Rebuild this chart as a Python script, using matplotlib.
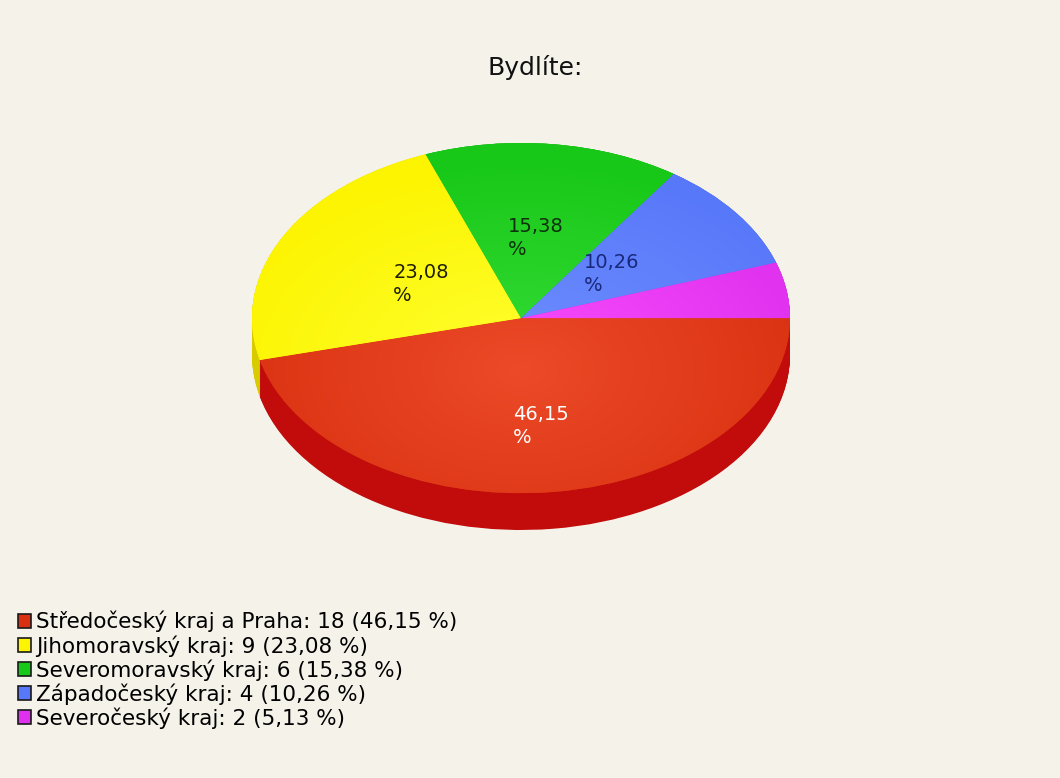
import numpy as np
import matplotlib.pyplot as plt
from matplotlib.patches import Patch
from matplotlib.colors import to_rgb

title = 'Bydlíte:'
regions = ['Středočeský kraj a Praha', 'Jihomoravský kraj', 'Severomoravský kraj',
           'Západočeský kraj', 'Severočeský kraj']
counts = [18, 9, 6, 4, 2]
shares = ['46,15', '23,08', '15,38', '10,26', '5,13']

top_colors = ['#d83010', '#fcf400', '#18c818', '#5878fa', '#de30ee']
light_colors = ['#ec4a28', '#ffff30', '#36dc36', '#6e8eff', '#fa4cfc']
side_colors = ['#c20c0c', '#d8cc00', '#109a10', '#3a56d0', '#a81cb8']
label_colors = ['#ffffff', '#1e1e00', '#0e300e', '#18287a', '#000000']
label_dist = [0.62, 0.42, 0.46, 0.42, 0.5]
show_label = [True, True, True, True, False]

bg = '#f5f2ea'
depth = 0.21

plt.rcParams['font.family'] = ['DejaVu Sans']

fig = plt.figure(figsize=(10.6, 7.78), dpi=100, facecolor=bg)
ax = fig.add_axes([252 / 1060, 1 - 530 / 778, 538 / 1060, 387 / 778])

# side of the disc: a stack of darker pies shifted down
for d in np.linspace(depth, 0, 45):
    ax.pie(counts, colors=side_colors, startangle=0, counterclock=False,
           center=(0, -d), wedgeprops=dict(linewidth=0))

wedges, _ = ax.pie(counts, colors=top_colors, startangle=0, counterclock=False,
                   wedgeprops=dict(linewidth=0))

# soft radial shading on the top face
xx, yy = np.meshgrid(np.linspace(-1, 1, 500), np.linspace(-1, 1, 500))
t = np.clip(np.hypot(xx, yy + 0.3) / 1.2, 0, 1)[..., None]
for w, c_light, c_base in zip(wedges, light_colors, top_colors):
    a = np.array(to_rgb(c_light))
    b = np.array(to_rgb(c_base))
    img = a + (b - a) * t
    im = ax.imshow(img, extent=(-1, 1, -1, 1), origin='lower', aspect='auto',
                   interpolation='bilinear', zorder=3)
    im.set_clip_path(w)

for w, s, col, r, show in zip(wedges, shares, label_colors, label_dist, show_label):
    if not show:
        continue
    ang = np.deg2rad((w.theta1 + w.theta2) / 2)
    ax.text(r * np.cos(ang), r * np.sin(ang), s + '\n%', color=col, fontsize=14,
            ha='center', va='center', multialignment='left', linespacing=1.3,
            zorder=5)

ax.set_aspect('auto')
ax.set_xlim(-1, 1)
ax.set_ylim(-1 - depth, 1)
ax.axis('off')

fig.text(535 / 1060, 1 - 68 / 778, title, ha='center', va='center', fontsize=18,
         color='#111111')

handles = [Patch(facecolor=c, edgecolor='#1a1a1a', linewidth=1.2) for c in top_colors]
labels = [f'{n}: {c} ({s} %)' for n, c, s in zip(regions, counts, shares)]
fig.legend(handles, labels, loc='upper left', bbox_to_anchor=(18 / 1060, 1 - 611 / 778),
           frameon=False, fontsize=15.5, handlelength=0.6, handleheight=0.6,
           handletextpad=0.25, labelspacing=0.12, borderpad=0, borderaxespad=0)

fig.savefig('out.png', dpi=100, facecolor=bg)
